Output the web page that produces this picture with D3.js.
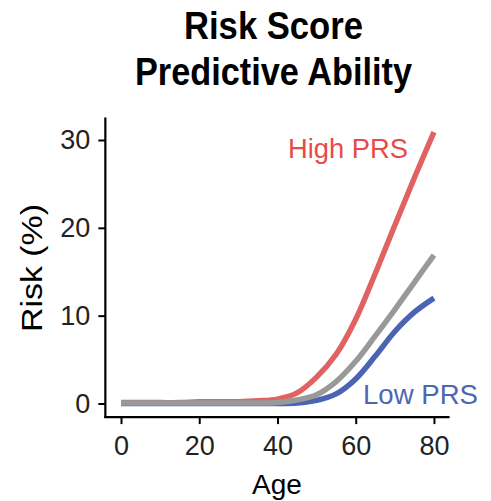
<!DOCTYPE html>
<html>
<head>
<meta charset="utf-8">
<script src="https://cdn.jsdelivr.net/npm/d3@7"></script>
<style>
    body { margin: 0; background: #fff; }
    text { font-family: "Liberation Sans", Arial, sans-serif; }
</style>
</head>
<body>
<div id="wrapper"></div>
<script>

// ages (x) and risk (%) for each group
const ages = [0, 5, 10, 15, 20, 25, 30, 35, 40, 45, 50, 55, 60, 65, 70, 75, 80]
const highRisk = [0.1, 0.1, 0.1, 0.1, 0.2, 0.2, 0.2, 0.3, 0.5, 1.2, 3.0, 5.6, 9.6, 14.8, 20.3, 25.7, 30.9]
const lowRisk = [0, 0, 0, 0, 0, 0, 0, 0, 0, 0.05, 0.35, 1.1, 2.8, 5.4, 8.2, 10.4, 12.0]
const avgRisk = [0.05, 0.05, 0.05, 0.05, 0.05, 0.05, 0.05, 0.05, 0.1, 0.4, 1.0, 2.5, 4.8, 7.7, 10.7, 13.8, 16.9]

const xTicks = [0, 20, 40, 60, 80]
const yTicks = [0, 10, 20, 30]

const titleLines = ["Risk Score", "Predictive Ability"]

function drawChart() {

    const dimensions = { width: 491, height: 501 }

    const svg = d3.select("#wrapper")
        .append("svg")
            .attr("width", dimensions.width)
            .attr("height", dimensions.height)

    // scales (domains padded like ggplot's 5% expansion)
    const xScale = d3.scaleLinear()
        .domain([-4, 84])
        .range([105.35, 449.6])

    const yScale = d3.scaleLinear()
        .domain([-1.55, 32.55])
        .range([417.1, 117.6])

    // axes
    const xAxis = d3.axisBottom(xScale)
        .tickValues(xTicks)
        .tickSize(7)
        .tickPadding(12)

    const yAxis = d3.axisLeft(yScale)
        .tickValues(yTicks)
        .tickSize(7)
        .tickPadding(8)

    const xAxisG = svg.append("g")
        .attr("transform", `translate(0, ${yScale(-1.55)})`)
        .call(xAxis)

    const yAxisG = svg.append("g")
        .attr("transform", `translate(${xScale(-4)}, 0)`)
        .call(yAxis)

    ;[xAxisG, yAxisG].forEach(g => {
        g.select(".domain")
            .attr("stroke", "#000")
            .attr("stroke-width", 2.2)
        g.selectAll(".tick line")
            .attr("stroke", "#000")
            .attr("stroke-width", 2)
        g.selectAll(".tick text")
            .attr("fill", "#222")
            .style("font-size", "27px")
    })
    // remove outer ticks from domain path
    xAxisG.select(".domain").attr("d", `M${xScale(-4) - 1},0H${xScale(84)}`)
    yAxisG.select(".domain").attr("d", `M0,${yScale(32.55)}V${yScale(-1.55) + 1}`)

    // lines
    const line = d3.line()
        .x((d, i) => xScale(ages[i]))
        .y(d => yScale(d))
        .curve(d3.curveCatmullRom.alpha(0.5))

    const series = [
        { values: highRisk, color: "#e06262" },
        { values: lowRisk, color: "#4a63b3" },
        { values: avgRisk, color: "#999999" },
    ]

    svg.append("g")
        .selectAll("path")
        .data(series)
        .join("path")
        .attr("d", d => line(d.values))
        .attr("fill", "none")
        .attr("stroke", d => d.color)
        .attr("stroke-width", 5.5)

    // group labels
    svg.append("text")
        .attr("x", 288)
        .attr("y", 158)
        .attr("fill", "#e84a4a")
        .style("font-size", "28px")
        .attr("textLength", 120)
        .attr("lengthAdjust", "spacingAndGlyphs")
        .text("High PRS")

    svg.append("text")
        .attr("x", 363)
        .attr("y", 404)
        .attr("fill", "#4d66b3")
        .style("font-size", "28px")
        .attr("textLength", 115)
        .attr("lengthAdjust", "spacingAndGlyphs")
        .text("Low PRS")

    // title
    const titleWidths = [179, 277]
    svg.selectAll(".title")
        .data(titleLines)
        .join("text")
        .attr("class", "title")
        .attr("x", (d, i) => 273.5 - titleWidths[i] / 2)
        .attr("y", (d, i) => 39 + i * 46)
        .attr("textLength", (d, i) => titleWidths[i])
        .attr("lengthAdjust", "spacingAndGlyphs")
        .style("font-size", "38px")
        .style("font-weight", "bold")
        .attr("fill", "#000")
        .text(d => d)

    // axis titles
    svg.append("text")
        .attr("x", 277)
        .attr("y", 494)
        .attr("text-anchor", "middle")
        .style("font-size", "28px")
        .attr("fill", "#000")
        .text("Age")

    svg.append("text")
        .attr("transform", "translate(42, 268) rotate(-90)")
        .attr("text-anchor", "middle")
        .attr("textLength", 128)
        .attr("lengthAdjust", "spacingAndGlyphs")
        .style("font-size", "29px")
        .attr("fill", "#000")
        .text("Risk (%)")
}

drawChart();
</script>
</body>
</html>
